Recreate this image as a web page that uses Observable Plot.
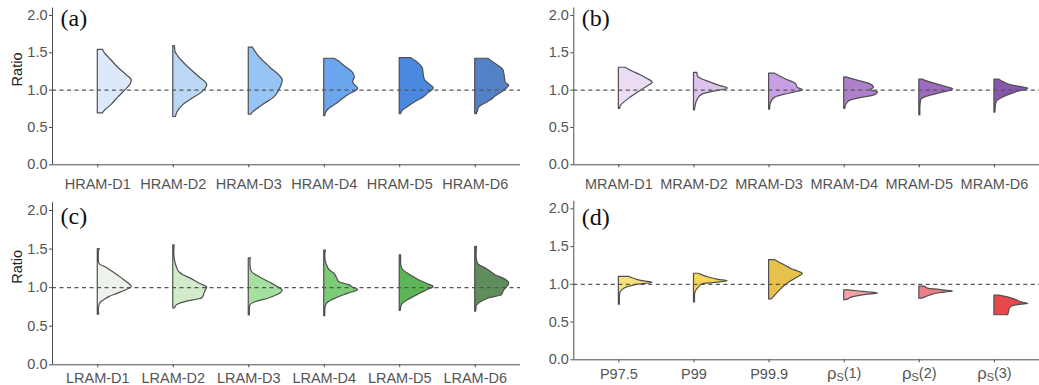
<!DOCTYPE html>
<html><head><meta charset="utf-8">
<script src="https://cdn.jsdelivr.net/npm/d3@7"></script>
<script src="https://cdn.jsdelivr.net/npm/@observablehq/plot@0.6"></script>
<style>
body{margin:0;background:#fff;}
#wrap{position:relative;width:1039px;height:385px;overflow:hidden;background:#fff}
#wrap > div{position:absolute}
</style></head><body><div id="wrap"></div>
<script>
// ---------- data: half-violin density profiles [ratio, relative density] ----------
const yTicks = [0, 0.5, 1, 1.5, 2];

const hramLabels = ["HRAM-D1", "HRAM-D2", "HRAM-D3", "HRAM-D4", "HRAM-D5", "HRAM-D6"];
const hramColors = ["#dde9fb", "#bcd7f6", "#97c4f4", "#6aa5ee", "#4b89e0", "#5381c5"];
const hramProfiles = [
  [[0.69,0.15],[0.72,0.2],[0.80,0.4],[0.90,0.6],[1.00,0.82],[1.08,0.97],[1.13,1.0],[1.20,0.85],[1.30,0.6],[1.40,0.4],[1.50,0.2],[1.54,0.15]],
  [[0.64,0.08],[0.70,0.12],[0.78,0.25],[0.88,0.55],[0.97,0.85],[1.07,1.0],[1.17,0.78],[1.29,0.48],[1.38,0.28],[1.45,0.15],[1.52,0.06],[1.59,0.05]],
  [[0.67,0.08],[0.70,0.12],[0.76,0.3],[0.81,0.45],[0.90,0.75],[1.02,0.92],[1.13,1.0],[1.22,0.85],[1.29,0.66],[1.36,0.5],[1.42,0.36],[1.50,0.22],[1.57,0.12]],
  [[0.65,0.03],[0.70,0.06],[0.75,0.15],[0.81,0.35],[0.87,0.52],[0.93,0.7],[1.02,1.0],[1.07,0.9],[1.11,0.85],[1.17,0.9],[1.24,0.83],[1.32,0.6],[1.38,0.45],[1.42,0.3]],
  [[0.68,0.04],[0.72,0.08],[0.79,0.3],[0.85,0.5],[0.90,0.7],[0.96,0.85],[1.02,1.0],[1.08,0.87],[1.13,0.75],[1.17,0.72],[1.23,0.7],[1.29,0.68],[1.36,0.55],[1.43,0.33]],
  [[0.68,0.05],[0.72,0.08],[0.77,0.12],[0.82,0.3],[0.86,0.45],[0.92,0.62],[0.97,0.8],[1.03,0.95],[1.06,1.0],[1.10,0.9],[1.15,0.88],[1.21,0.86],[1.27,0.83],[1.35,0.6],[1.42,0.39]]
];

const mramLabels = ["MRAM-D1", "MRAM-D2", "MRAM-D3", "MRAM-D4", "MRAM-D5", "MRAM-D6"];
const mramColors = ["#ecdcf3", "#dcc2ec", "#c79ee1", "#ae80cc", "#9c6bbf", "#8956ad"];
const mramProfiles = [
  [[0.75,0.04],[0.79,0.06],[0.83,0.15],[0.90,0.35],[0.99,0.64],[1.05,0.85],[1.10,1.0],[1.15,0.85],[1.20,0.64],[1.25,0.4],[1.30,0.2]],
  [[0.73,0.03],[0.79,0.05],[0.84,0.08],[0.88,0.12],[0.94,0.25],[0.98,0.6],[1.02,1.0],[1.06,0.74],[1.11,0.44],[1.16,0.18],[1.18,0.12],[1.23,0.1]],
  [[0.74,0.03],[0.80,0.04],[0.85,0.08],[0.90,0.18],[0.94,0.47],[0.97,0.77],[1.00,1.0],[1.03,0.85],[1.08,0.8],[1.15,0.47],[1.19,0.3],[1.22,0.18]],
  [[0.75,0.03],[0.79,0.05],[0.83,0.1],[0.86,0.18],[0.89,0.45],[0.93,0.9],[0.97,1.0],[1.00,0.78],[1.03,0.88],[1.08,0.76],[1.13,0.37],[1.17,0.06]],
  [[0.66,0.03],[0.75,0.03],[0.82,0.04],[0.87,0.06],[0.90,0.15],[0.95,0.55],[1.01,1.0],[1.04,0.8],[1.08,0.5],[1.12,0.2],[1.14,0.12]],
  [[0.70,0.03],[0.78,0.04],[0.83,0.06],[0.86,0.1],[0.90,0.25],[0.97,0.64],[1.02,1.0],[1.06,0.54],[1.10,0.3],[1.14,0.15]]
];

const lramLabels = ["LRAM-D1", "LRAM-D2", "LRAM-D3", "LRAM-D4", "LRAM-D5", "LRAM-D6"];
const lramColors = ["#edf3eb", "#d2eccb", "#a5e09f", "#7ccb77", "#5db558", "#5e8e59"];
const lramProfiles = [
  [[0.65,0.04],[0.70,0.03],[0.77,0.05],[0.81,0.1],[0.84,0.2],[0.88,0.35],[0.92,0.58],[0.97,0.85],[1.01,1.0],[1.05,0.92],[1.09,0.8],[1.13,0.68],[1.18,0.52],[1.23,0.35],[1.27,0.2],[1.30,0.06],[1.35,0.03],[1.45,0.03],[1.50,0.06]],
  [[0.73,0.05],[0.77,0.1],[0.81,0.33],[0.84,0.65],[0.86,0.85],[0.92,0.92],[0.96,0.95],[1.00,1.0],[1.05,0.78],[1.12,0.5],[1.16,0.3],[1.20,0.18],[1.27,0.1],[1.35,0.05],[1.45,0.03],[1.55,0.04]],
  [[0.64,0.03],[0.70,0.03],[0.77,0.05],[0.81,0.2],[0.86,0.6],[0.91,0.88],[0.96,1.0],[1.01,0.85],[1.07,0.6],[1.14,0.3],[1.20,0.1],[1.25,0.06],[1.32,0.05],[1.38,0.06]],
  [[0.63,0.03],[0.70,0.03],[0.76,0.05],[0.79,0.08],[0.83,0.2],[0.86,0.35],[0.92,0.7],[0.97,1.0],[1.00,0.85],[1.03,0.75],[1.07,0.45],[1.12,0.38],[1.18,0.3],[1.23,0.15],[1.27,0.1],[1.35,0.04],[1.42,0.03],[1.48,0.05]],
  [[0.70,0.03],[0.77,0.06],[0.80,0.12],[0.84,0.25],[0.88,0.42],[0.92,0.6],[0.97,0.82],[1.01,1.0],[1.05,0.8],[1.09,0.6],[1.14,0.4],[1.18,0.25],[1.22,0.12],[1.25,0.07],[1.33,0.04],[1.42,0.04]],
  [[0.69,0.03],[0.75,0.04],[0.79,0.1],[0.83,0.25],[0.86,0.4],[0.90,0.78],[0.96,0.85],[1.01,0.95],[1.05,1.0],[1.12,0.82],[1.16,0.6],[1.21,0.45],[1.25,0.3],[1.31,0.08],[1.40,0.04],[1.53,0.05]]
];

const dLabels = ["P97.5", "P99", "P99.9", "ρs(1)", "ρs(2)", "ρs(3)"];
const dColors = ["#f8e07c", "#f3d65a", "#e6c24d", "#f2a2a6", "#ea8085", "#e8484c"];
const dProfiles = [
  [[0.73,0.03],[0.80,0.03],[0.88,0.04],[0.92,0.1],[0.96,0.25],[0.99,0.5],[1.02,1.0],[1.04,0.75],[1.06,0.54],[1.08,0.4],[1.10,0.3]],
  [[0.76,0.03],[0.84,0.03],[0.90,0.05],[0.96,0.15],[1.00,0.25],[1.02,0.64],[1.04,1.0],[1.06,0.73],[1.09,0.44],[1.12,0.25],[1.14,0.15]],
  [[0.80,0.08],[0.81,0.1],[0.87,0.22],[0.93,0.35],[0.98,0.47],[1.03,0.62],[1.07,0.77],[1.11,0.92],[1.14,1.0],[1.17,0.85],[1.20,0.67],[1.25,0.47],[1.29,0.3],[1.32,0.18]],
  [[0.79,0.06],[0.80,0.12],[0.82,0.2],[0.84,0.38],[0.86,0.65],[0.88,1.0],[0.895,0.7],[0.905,0.45],[0.92,0.12]],
  [[0.81,0.08],[0.83,0.2],[0.855,0.35],[0.875,0.5],[0.89,0.75],[0.905,1.0],[0.92,0.7],[0.93,0.55],[0.94,0.28],[0.955,0.2],[0.97,0.18]],
  [[0.59,0.4],[0.61,0.42],[0.65,0.44],[0.68,0.46],[0.71,0.55],[0.73,0.8],[0.74,1.0],[0.76,0.8],[0.79,0.65],[0.82,0.45],[0.85,0.15]]
];

// ---------- drawing ----------
const HALF = 0.45;        // half-violin max width in category units
const AX = "#4d4d4d";

function panel(o) {
  const n = o.labels.length;
  const x0 = -0.6, x1 = n - 0.4;
  const rows = [];
  o.profiles.forEach((prof, i) => prof.forEach(([v, w]) => rows.push({i, v, w, color: o.colors[i]})));
  const marks = [
    Plot.areaX(rows, {y: "v", x1: "i", x2: d => d.i + d.w * HALF, z: "i",
      fill: "color", stroke: "#4f4f4f", strokeWidth: 1.2, curve: "monotone-y"}),
    Plot.ruleY([1], {stroke: "#555", strokeDasharray: "4,3.5", strokeWidth: 1.3}),
    Plot.ruleX([x0], {y1: 0, y2: 2.1, stroke: AX, strokeWidth: 1}),
    Plot.ruleY([0], {stroke: AX, strokeWidth: 1}),
    Plot.axisX(d3.range(n), {tickFormat: i => o.labels[i], tickSize: 3, tickPadding: o.tp, label: null, fill: "#555", stroke: AX, fontSize: 14.5}),
    Plot.axisY(yTicks, {tickSize: 3, tickPadding: 2, tickFormat: d3.format(".1f"), label: null, fill: "#555", stroke: AX, fontSize: 14.5}),
    Plot.text([o.tag], {frameAnchor: "top-left", dx: 8, dy: o.tagDy, textAnchor: "start", lineAnchor: "top",
      fontFamily: "'Liberation Serif', 'Times New Roman', serif", fontSize: 24, fill: "#111"})
  ];
  if (o.ylabel) marks.push(Plot.text([o.ylabel], {frameAnchor: "left", dx: -35, rotate: -90, fontSize: 14.5, fill: "#222"}));
  const svg = Plot.plot({
    width: o.width, height: o.height,
    marginLeft: o.ml, marginRight: 0, marginTop: o.mt, marginBottom: o.mb,
    style: {fontFamily: "'Liberation Sans', Arial, sans-serif", fontSize: "14.5px", background: "transparent", overflow: "visible"},
    x: {domain: [x0, x1], axis: null},
    y: {domain: [0, 2.1], axis: null},
    color: {type: "identity"},
    marks
  });
  // subscript S for Spearman's rho labels
  d3.select(svg).selectAll('[aria-label="x-axis tick label"] text').each(function() {
    const t = this.textContent;
    if (t.startsWith("ρs")) {
      this.textContent = "";
      const s = d3.select(this);
      s.append("tspan").attr("font-size", "115%").text("ρ");
      s.append("tspan").attr("font-size", "75%").attr("dy", "0.25em").text("S");
      s.append("tspan").attr("dy", "-0.25em").text(t.slice(2));
    }
  });
  const div = document.createElement("div");
  div.style.left = o.left + "px";
  div.style.top = o.top + "px";
  div.appendChild(svg);
  document.getElementById("wrap").appendChild(div);
}

panel({labels: hramLabels, colors: hramColors, profiles: hramProfiles, tag: "(a)", ylabel: "Ratio",
  left: 0, top: 0, width: 520, height: 195, ml: 52, mt: 7.5, mb: 30.7, tp: 11, tagDy: 1});
panel({labels: mramLabels, colors: mramColors, profiles: mramProfiles, tag: "(b)", ylabel: null,
  left: 520, top: 0, width: 519, height: 195, ml: 53.3, mt: 7.5, mb: 30.7, tp: 11, tagDy: 1});
panel({labels: lramLabels, colors: lramColors, profiles: lramProfiles, tag: "(c)", ylabel: "Ratio",
  left: 0, top: 195, width: 520, height: 190, ml: 52, mt: 7.3, mb: 20.7, tp: 4.5, tagDy: 4});
panel({labels: dLabels, colors: dColors, profiles: dProfiles, tag: "(d)", ylabel: null,
  left: 520, top: 195, width: 519, height: 190, ml: 53.3, mt: 5.8, mb: 25.7, tp: 5.5, tagDy: 7});
</script>
</body></html>
